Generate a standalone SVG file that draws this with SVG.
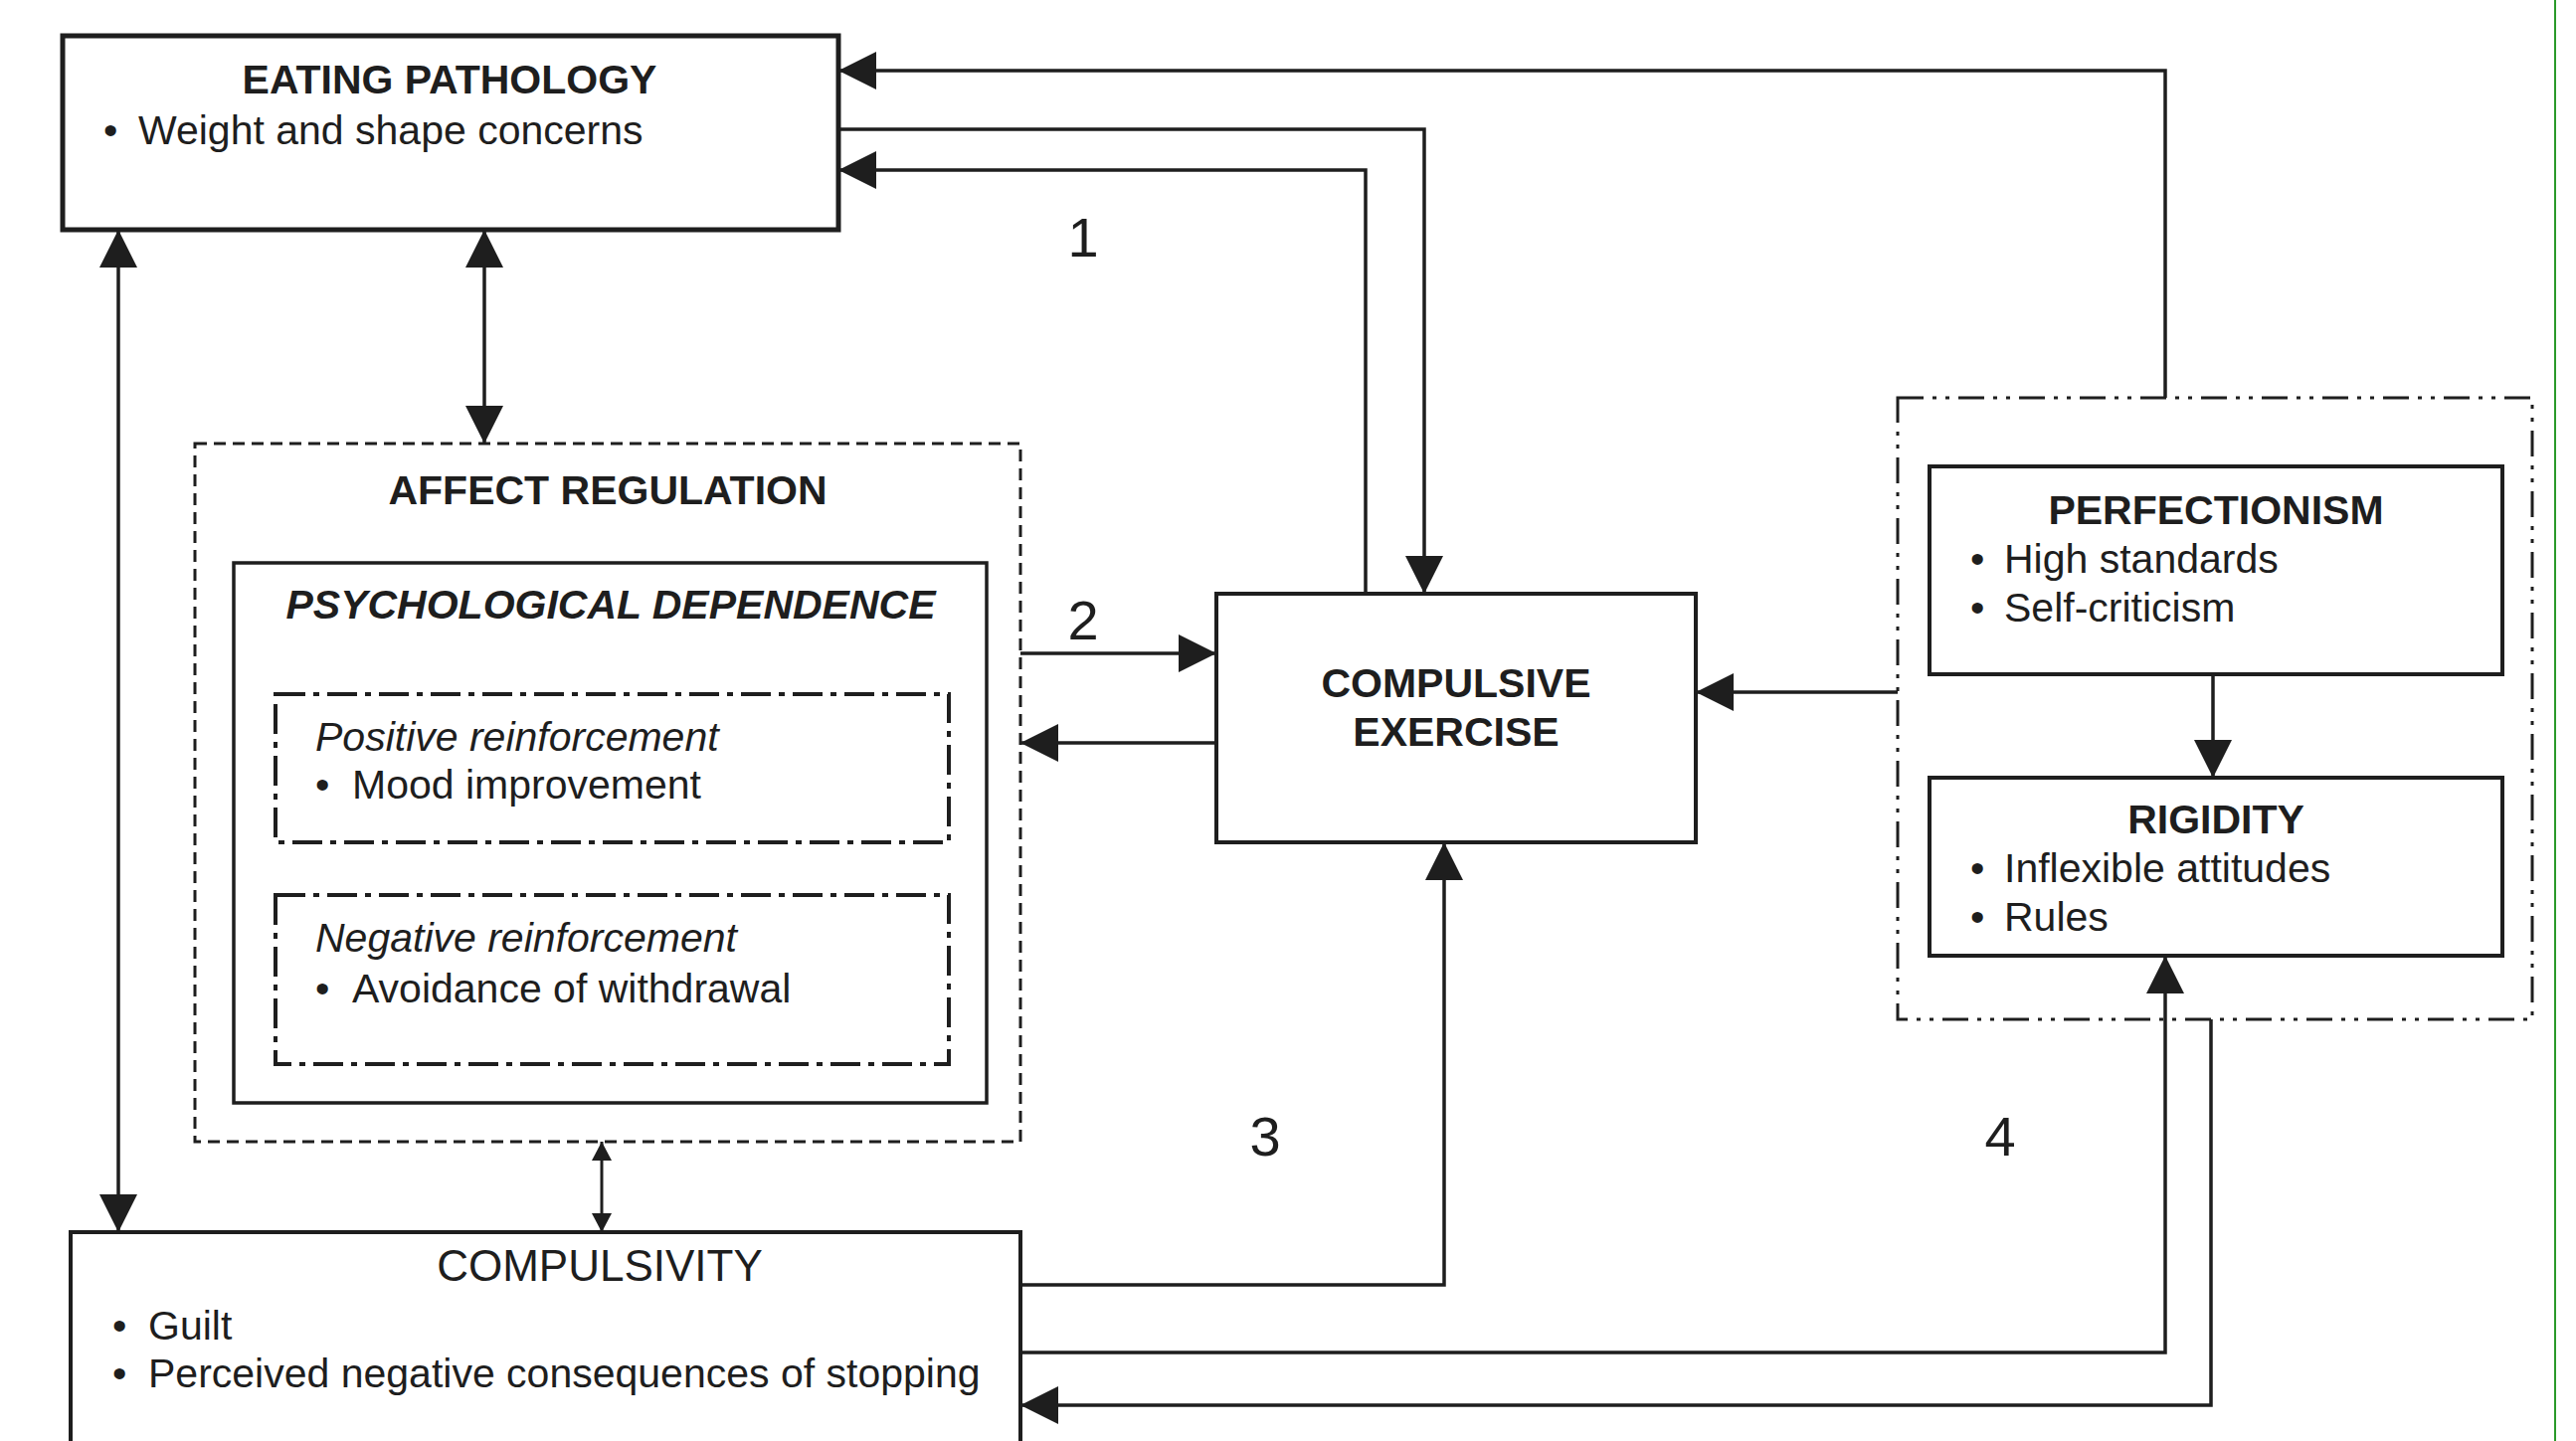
<svg xmlns="http://www.w3.org/2000/svg" width="2590" height="1449" viewBox="0 0 2590 1449">
<style>
.box{fill:none;stroke:#1e1e1e;stroke-width:4}
.thick{stroke-width:5}
.dash{fill:none;stroke:#1e1e1e;stroke-width:3;stroke-dasharray:12 7}
.dashdot{fill:none;stroke:#1e1e1e;stroke-width:4;stroke-dasharray:30 8 6 8}
.dashdotdot{fill:none;stroke:#1e1e1e;stroke-width:3;stroke-dasharray:26 9 4 9 4 9}
.conn{fill:none;stroke:#1e1e1e;stroke-width:3.5}
text{font-family:"Liberation Sans",Arial,sans-serif;fill:#1e1e1e;font-size:41px}
.t{font-weight:bold;text-anchor:middle}
.bi{font-weight:bold;font-style:italic;text-anchor:middle}
.it{font-style:italic}
.num{font-size:56px;text-anchor:middle}
</style>
<defs>
<marker id="arr" markerUnits="userSpaceOnUse" markerWidth="40" markerHeight="38" refX="38" refY="19" orient="auto-start-reverse">
<path d="M0,0 L38,19 L0,38 z" fill="#1e1e1e"/>
</marker>
<marker id="arrs" markerUnits="userSpaceOnUse" markerWidth="20" markerHeight="20" refX="19" refY="10" orient="auto-start-reverse">
<path d="M0,0 L19,10 L0,20 z" fill="#1e1e1e"/>
</marker>
</defs>
<rect width="2590" height="1449" fill="#ffffff"/>
<line x1="2569" y1="0" x2="2569" y2="1449" stroke="#2a9a2a" stroke-width="2"/>

<g id="eating-pathology">
<rect class="box thick" x="63" y="36" width="780" height="195"/>
<text class="t" x="452" y="94">EATING PATHOLOGY</text>
<text x="104" y="145">•</text>
<text x="139" y="145">Weight and shape concerns</text>
</g>

<g id="affect-regulation">
<rect class="dash" x="196" y="446" width="830" height="702"/>
<text class="t" x="611" y="507">AFFECT REGULATION</text>
</g>

<g id="psychological-dependence">
<rect class="box" style="stroke-width:3.5" x="235" y="566" width="757" height="543"/>
<text class="bi" x="614" y="622">PSYCHOLOGICAL DEPENDENCE</text>
</g>

<g id="positive-reinforcement">
<rect class="dashdot" x="277" y="698" width="677" height="149"/>
<text class="it" x="317" y="755">Positive reinforcement</text>
<text x="317" y="803">•</text>
<text x="354" y="803">Mood improvement</text>
</g>

<g id="negative-reinforcement">
<rect class="dashdot" x="277" y="900" width="677" height="170"/>
<text class="it" x="317" y="957">Negative reinforcement</text>
<text x="317" y="1008">•</text>
<text x="354" y="1008">Avoidance of withdrawal</text>
</g>

<g id="compulsive-exercise">
<rect class="box" x="1223" y="597" width="482" height="250"/>
<text class="t" x="1464" y="701">COMPULSIVE</text>
<text class="t" x="1464" y="750">EXERCISE</text>
</g>

<g id="perfectionism-rigidity-group">
<rect class="dashdotdot" x="1908" y="400" width="638" height="625"/>
</g>

<g id="perfectionism">
<rect class="box" x="1940" y="469" width="576" height="209"/>
<text class="t" x="2228" y="527">PERFECTIONISM</text>
<text x="1981" y="576">•</text>
<text x="2015" y="576">High standards</text>
<text x="1981" y="625">•</text>
<text x="2015" y="625">Self-criticism</text>
</g>

<g id="rigidity">
<rect class="box" x="1940" y="782" width="576" height="179"/>
<text class="t" x="2228" y="838">RIGIDITY</text>
<text x="1981" y="887">•</text>
<text x="2015" y="887">Inflexible attitudes</text>
<text x="1981" y="936">•</text>
<text x="2015" y="936">Rules</text>
</g>

<g id="compulsivity">
<rect class="box" x="71" y="1239" width="955" height="240"/>
<text x="603" y="1288" style="font-size:44px;text-anchor:middle">COMPULSIVITY</text>
<text x="113" y="1347">•</text>
<text x="149" y="1347">Guilt</text>
<text x="113" y="1395">•</text>
<text x="149" y="1395">Perceived negative consequences of stopping</text>
</g>

<g id="connectors">
<path class="conn" d="M2177,400 V71 H843" marker-end="url(#arr)"/>
<path class="conn" d="M843,130 H1432 V597" marker-end="url(#arr)"/>
<path class="conn" d="M1373,597 V171 H843" marker-end="url(#arr)"/>
<path class="conn" d="M119,231 V1239" marker-start="url(#arr)" marker-end="url(#arr)"/>
<path class="conn" d="M487,231 V446" marker-start="url(#arr)" marker-end="url(#arr)"/>
<path class="conn" d="M1026,657 H1223" marker-end="url(#arr)"/>
<path class="conn" d="M1223,747 H1026" marker-end="url(#arr)"/>
<path class="conn" d="M1908,696 H1705" marker-end="url(#arr)"/>
<path class="conn" d="M2225,678 V782" marker-end="url(#arr)"/>
<path class="conn" d="M1026,1292 H1452 V847" marker-end="url(#arr)"/>
<path class="conn" d="M1026,1360 H2177 V961" marker-end="url(#arr)"/>
<path class="conn" d="M2223,1025 V1413 H1026" marker-end="url(#arr)"/>
<path class="conn" style="stroke-width:3" d="M605,1148 V1239" marker-start="url(#arrs)" marker-end="url(#arrs)"/>
</g>

<g id="labels">
<text class="num" x="1089" y="258">1</text>
<text class="num" x="1089" y="643">2</text>
<text class="num" x="1272" y="1162">3</text>
<text class="num" x="2011" y="1162">4</text>
</g>
</svg>
